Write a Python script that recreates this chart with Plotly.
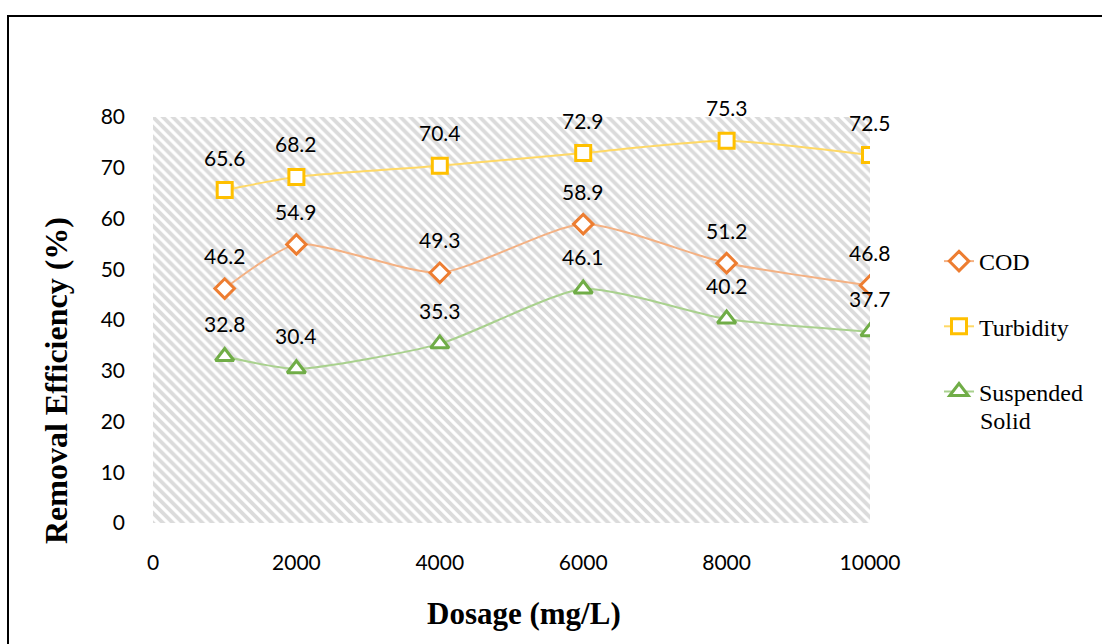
import plotly.graph_objects as go

dosage = [1000, 2000, 4000, 6000, 8000, 10000]
cod = [46.2, 54.9, 49.3, 58.9, 51.2, 46.8]
turbidity = [65.6, 68.2, 70.4, 72.9, 75.3, 72.5]
suspended_solid = [32.8, 30.4, 35.3, 46.1, 40.2, 37.7]

x_ticks = [0, 2000, 4000, 6000, 8000, 10000]
x_tick_labels = ["0", "2000", "4000", "6000", "8000", "10000"]
y_ticks = [0, 10, 20, 30, 40, 50, 60, 70, 80]
X_RANGE = [0, 10000]
Y_RANGE = [0, 80]

W, H = 1102, 644
PLOT_L, PLOT_R, PLOT_T, PLOT_B = 153, 870, 117, 523

series = [
    ("COD", cod, "diamond", "#ED7D31", "#F4B183", 15),
    ("Turbidity", turbidity, "square", "#FFC000", "#FFD966", 15),
    ("Suspended", suspended_solid, "triangle-up", "#70AD47", "#A9D18E", 16),
]

fig = go.Figure()

# hatched plot-area background
fig.add_trace(go.Scatter(
    x=[X_RANGE[0], X_RANGE[1], X_RANGE[1], X_RANGE[0], X_RANGE[0]],
    y=[Y_RANGE[0], Y_RANGE[0], Y_RANGE[1], Y_RANGE[1], Y_RANGE[0]],
    mode="none", fill="toself", fillcolor="white",
    fillpattern=dict(shape="\\", size=7, solidity=0.55, fgcolor="#b8b8b8", bgcolor="white"),
    showlegend=False, hoverinfo="skip",
))

for i, (name, vals, sym, mc, lc, ms) in enumerate(series):
    fig.add_trace(go.Scatter(
        x=dosage, y=vals, name=name, mode="lines+markers",
        legendgroup=f"g{i}",
        line=dict(color=lc, width=2, shape="spline", smoothing=0.6),
        marker=dict(symbol=sym, size=ms, color="white", line=dict(color=mc, width=3)),
    ))
    for xv, yv in zip(dosage, vals):
        fig.add_annotation(x=xv, y=yv, text=f"{yv}", showarrow=False, yshift=33,
                           font=dict(family="Lato", size=21, color="black"))

fig.add_annotation(text="<b>Dosage (mg/L)</b>", xref="paper", yref="paper",
                   x=524 / W, y=1 - 613 / H, xanchor="center", yanchor="middle",
                   showarrow=False,
                   font=dict(family="Liberation Serif", size=31, color="black"))
fig.add_annotation(text="<b>Removal Efficiency (%)</b>", xref="paper", yref="paper",
                   x=56 / W, y=1 - 381 / H, xanchor="center", yanchor="middle",
                   showarrow=False, textangle=-90,
                   font=dict(family="Liberation Serif", size=32, color="black"))
# second line of the "Suspended Solid" legend entry
fig.add_annotation(text="Solid", xref="paper", yref="paper",
                   x=978 / W, y=1 - 421 / H, xanchor="left", yanchor="middle",
                   showarrow=False,
                   font=dict(family="Liberation Serif", size=24, color="black"))

# outer frame
fig.add_shape(type="rect", xref="paper", yref="paper",
              x0=8 / W, x1=1.05, y0=-0.05, y1=1 - 16 / H,
              line=dict(color="black", width=2), fillcolor="rgba(0,0,0,0)")

fig.update_layout(
    width=W, height=H,
    margin=dict(l=0, r=0, t=0, b=0, autoexpand=False),
    paper_bgcolor="white", plot_bgcolor="white",
    font=dict(family="Lato", size=21, color="black"),
    showlegend=True,
    legend=dict(x=939 / W, y=1 - 239 / H, xanchor="left", yanchor="top",
                font=dict(family="Liberation Serif", size=24, color="black"),
                tracegroupgap=31, bgcolor="rgba(0,0,0,0)", traceorder="grouped"),
    xaxis=dict(domain=[PLOT_L / W, PLOT_R / W], range=X_RANGE,
               tickvals=x_ticks, ticktext=x_tick_labels,
               showgrid=False, zeroline=False, showline=False, ticks="",
               ticklabelstandoff=25, tickfont=dict(family="Lato", size=21)),
    yaxis=dict(domain=[1 - PLOT_B / H, 1 - PLOT_T / H], range=Y_RANGE, tickvals=y_ticks,
               showgrid=False, zeroline=False, showline=False, ticks="",
               ticklabelstandoff=27, tickfont=dict(family="Lato", size=21)),
)

fig.write_html("out.html", config={"displayModeBar": False},
               post_script="document.body.style.margin='0';")
